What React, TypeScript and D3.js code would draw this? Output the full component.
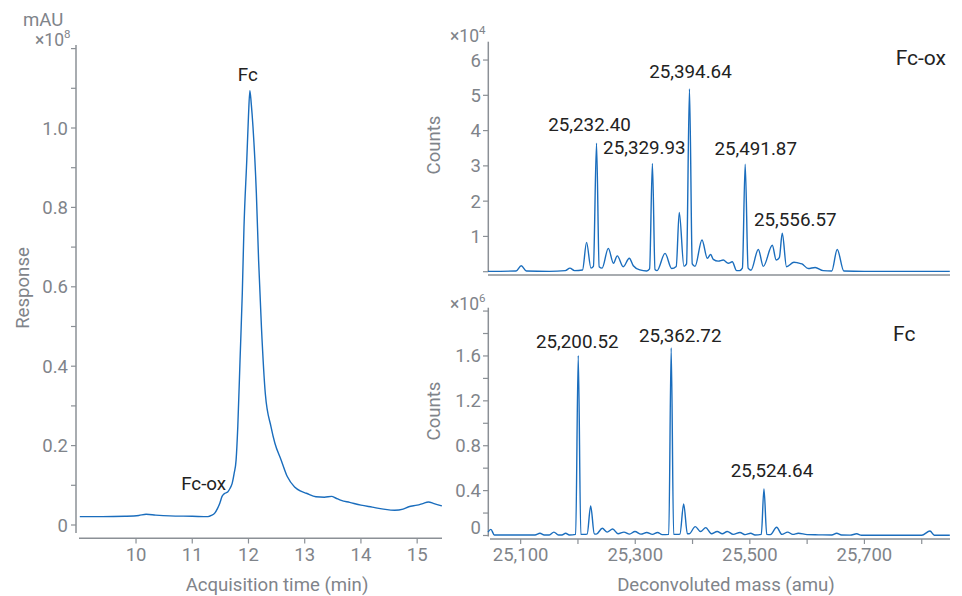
import React from "react";
import * as d3 from "d3";

// ---- Chromatogram (UV trace), response in units of 1e8 mAU ----
const chromTime = [
  9.0, 9.4, 9.8, 10.05, 10.18, 10.35, 10.6, 11.0, 11.28, 11.34, 11.4, 11.45, 11.49, 11.53,
  11.57, 11.63, 11.67, 11.71, 11.745, 11.78, 11.81, 11.85, 11.89, 11.92, 11.97, 12.0, 12.025,
  12.05, 12.08, 12.14, 12.18, 12.23, 12.3, 12.4, 12.47, 12.58, 12.69, 12.82, 12.92, 13.03,
  13.2, 13.35, 13.48, 13.55, 13.65, 13.8, 14.0, 14.2, 14.4, 14.6, 14.75, 14.85, 15.0, 15.1,
  15.2, 15.3, 15.44,
];
const chromResponse = [
  0.021, 0.021, 0.022, 0.024, 0.027, 0.025, 0.023, 0.022, 0.021, 0.024, 0.03, 0.042, 0.055,
  0.072, 0.079, 0.083, 0.092, 0.105, 0.13, 0.164, 0.248, 0.416, 0.584, 0.75, 0.92, 1.03, 1.094,
  1.06, 1.003, 0.836, 0.667, 0.5, 0.33, 0.248, 0.206, 0.164, 0.122, 0.096, 0.086, 0.08,
  0.071, 0.07, 0.072, 0.068, 0.062, 0.057, 0.05, 0.045, 0.04, 0.037, 0.04, 0.046, 0.05, 0.054,
  0.058, 0.054, 0.048,
];
const chromPeaks = [
  { name: "Fc", time: 12.025, response: 1.094 },
  { name: "Fc-ox", time: 11.55, response: 0.076 },
];

// ---- Deconvoluted spectrum, Fc-ox fraction (counts x 1e4) ----
const oxMass = [
  25043, 25092, 25101, 25110, 25150, 25178, 25186, 25194, 25208, 25215, 25222.7, 25227,
  25232.4, 25237, 25242, 25253, 25262, 25268.6, 25279, 25289.6, 25296.6, 25308, 25320, 25325,
  25329.93, 25334.5, 25338, 25352, 25363.6, 25371.5, 25376.8, 25385, 25389.5, 25394.64,
  25399.5, 25404.3, 25416.5, 25425.8, 25431.6, 25436.2, 25444.9, 25453.6, 25462.4, 25469.3,
  25477, 25482, 25487, 25491.87, 25497, 25502, 25514.8, 25523.5, 25539.2, 25546, 25551.5,
  25556.57, 25564, 25577, 25584, 25591, 25602, 25614, 25628, 25643, 25652.5, 25664, 25700,
  25849,
];
const oxCounts = [
  0.01, 0.02, 0.17, 0.02, 0.01, 0.03, 0.1, 0.03, 0.05, 0.83, 0.1, 0.15,
  3.64, 0.14, 0.1, 0.66, 0.24, 0.45, 0.14, 0.38, 0.17, 0.05, 0.02, 0.08,
  3.07, 0.06, 0.03, 0.52, 0.09, 0.15, 1.68, 0.15, 0.22, 5.18,
  0.22, 0.15, 0.9, 0.38, 0.49, 0.35, 0.3, 0.33, 0.24, 0.28,
  0.03, 0.03, 0.1, 3.05, 0.1, 0.04, 0.63, 0.15, 0.75, 0.33, 0.4,
  1.09, 0.14, 0.27, 0.25, 0.22, 0.09, 0.12, 0.03, 0.02, 0.63, 0.02, 0.01,
  0.01,
];
const oxLabels = [
  { mass: 25232.4, counts: 3.64 },
  { mass: 25329.93, counts: 3.07 },
  { mass: 25394.64, counts: 5.18 },
  { mass: 25491.87, counts: 3.05 },
  { mass: 25556.57, counts: 1.09 },
];

// ---- Deconvoluted spectrum, Fc fraction (counts x 1e6) ----
const fcMass = [
  25043, 25048, 25054, 25125, 25133.7, 25141, 25150, 25158, 25166, 25172, 25178.5, 25185,
  25196, 25200.52, 25205, 25210, 25216, 25222.2, 25228.5, 25232, 25242.5, 25251, 25260.6,
  25270, 25280.3, 25290, 25299.5, 25310, 25320, 25330, 25339, 25347, 25358.5, 25362.72,
  25367, 25374, 25378, 25384.5, 25391, 25394, 25404.8, 25414, 25423, 25433, 25443, 25452,
  25460.6, 25471, 25482.8, 25492, 25501.5, 25509, 25520, 25524.64, 25529.5, 25536, 25546.8,
  25556, 25566, 25575, 25584.6, 25600, 25620, 25643, 25651.6, 25660, 25675, 25686.5, 25695,
  25800, 25814.4, 25822, 25849,
];
const fcCounts = [
  0.03, 0.055, 0.005, 0.005, 0.02, 0.005, 0.005, 0.03, 0.005, 0.005, 0.02, 0.004,
  0.01, 1.603, 0.01, 0.01, 0.012, 0.263, 0.015, 0.012, 0.064, 0.03, 0.058,
  0.015, 0.03, 0.012, 0.036, 0.012, 0.027, 0.01, 0.027, 0.008, 0.01, 1.671,
  0.01, 0.01, 0.012, 0.281, 0.015, 0.015, 0.079, 0.035, 0.07, 0.015, 0.036, 0.015,
  0.036, 0.01, 0.027, 0.008, 0.02, 0.005, 0.01, 0.415, 0.01, 0.008, 0.073,
  0.01, 0.03, 0.01, 0.02, 0.008, 0.006, 0.004, 0.02, 0.004, 0.003, 0.015, 0.002,
  0.002, 0.04, 0.002, 0.002,
];
const fcLabels = [
  { mass: 25200.52, counts: 1.603 },
  { mass: 25362.72, counts: 1.671 },
  { mass: 25524.64, counts: 0.415 },
];

// ---- Axis ticks ----
const timeTicks = [10, 11, 12, 13, 14, 15];
const responseTicks = [0, 0.1, 0.2, 0.3, 0.4, 0.5, 0.6, 0.7, 0.8, 0.9, 1.0, 1.1, 1.2];
const responseLabels = [0, 0.2, 0.4, 0.6, 0.8, 1.0];
const oxCountTicks = [0, 1, 2, 3, 4, 5, 6];
const oxCountLabels = [1, 2, 3, 4, 5, 6];
const fcCountTicks = [0, 0.2, 0.4, 0.6, 0.8, 1.0, 1.2, 1.4, 1.6, 1.8, 2.0];
const fcCountLabels = [0, 0.4, 0.8, 1.2, 1.6];
const massTicks = [25100, 25200, 25300, 25400, 25500, 25600, 25700, 25800];
const massLabels = [25100, 25300, 25500, 25700];

// label placement relative to the annotated apex
const oxLabelOffsets = [[-7, -19], [-8, -15.6], [1, -18], [10.5, -15.7], [13, -14]];
const fcLabelOffsets = [[-1, -14.5], [9, -12.6], [8, -19]];

const FONT = "Roboto, 'Noto Sans', sans-serif";
const AXIS = "#8b9096";
const TICK_TEXT = "#7f848a";
const INK = "#222222";
const TRACE = "#1a6dbd";

const fmtMass = d3.format(",.2f");
const fmtTick = d3.format(",");

export default function App() {
  const tx = d3.scaleLinear().domain([9, 15.44]).range([79.8, 441.9]);
  const ty = d3.scaleLinear().domain([0, 1.2]).range([525, 48.6]);
  const mx = d3.scaleLinear().domain([25043, 25849]).range([488, 949.8]);
  const oy = d3.scaleLinear().domain([0, 6.52]).range([271.7, 41.7]);
  const fy = d3.scaleLinear().domain([0, 2.03]).range([535.5, 307.7]);

  const chromPath = d3
    .line<number>()
    .x((d) => tx(d))
    .y((_, i) => ty(chromResponse[i]))
    .curve(d3.curveMonotoneX)(chromTime) as string;

  const oxPath = d3
    .line<number>()
    .x((d) => mx(d))
    .y((_, i) => oy(oxCounts[i]))
    .curve(d3.curveMonotoneX)(oxMass) as string;

  const fcPath = d3
    .line<number>()
    .x((d) => mx(d))
    .y((_, i) => fy(fcCounts[i]))
    .curve(d3.curveMonotoneX)(fcMass) as string;

  const tickText = { fill: TICK_TEXT, fontSize: 18.5, fontFamily: FONT } as const;
  const titleText = { fill: TICK_TEXT, fontSize: 18.6, fontFamily: FONT } as const;
  const annText = { fill: INK, fontSize: 18.8, fontFamily: FONT } as const;
  const expText = { fill: TICK_TEXT, fontSize: 17.5, fontFamily: FONT } as const;

  const fcPeak = chromPeaks[0];
  const oxPeak = chromPeaks[1];

  return (
    <svg
      width={962}
      height={596}
      viewBox="0 0 962 596"
      style={{ position: "absolute", left: 0, top: 0, background: "#fff" }}
    >
      <rect x={0} y={0} width={962} height={596} fill="#ffffff" />

      {/* ===== Left: chromatogram ===== */}
      <text x={23} y={25.5} {...titleText}>mAU</text>
      <text x={35} y={45.5} {...expText}>
        ×10<tspan dy={-8} fontSize={11.5}>8</tspan>
      </text>
      <line x1={76} x2={76} y1={45} y2={533} stroke={AXIS} strokeWidth={1.5} />
      {responseTicks.map((t) => (
        <line key={"ry" + t} x1={71} x2={76} y1={ty(t)} y2={ty(t)} stroke={AXIS} strokeWidth={1.2} />
      ))}
      {responseLabels.map((t) => (
        <text key={"ryl" + t} x={68} y={ty(t) + 6.5} textAnchor="end" {...tickText}>
          {t === 0 ? "0" : t.toFixed(1)}
        </text>
      ))}
      <line x1={79} x2={442} y1={538.3} y2={538.3} stroke={AXIS} strokeWidth={1.5} />
      {timeTicks.map((t) => (
        <line key={"tx" + t} x1={tx(t)} x2={tx(t)} y1={538.3} y2={543.5} stroke={AXIS} strokeWidth={1.2} />
      ))}
      {timeTicks.map((t) => (
        <text key={"txl" + t} x={tx(t)} y={560.8} textAnchor="middle" {...tickText}>
          {t}
        </text>
      ))}
      <text x={277} y={590.8} textAnchor="middle" {...titleText}>Acquisition time (min)</text>
      <text
        transform="translate(28.5,288) rotate(-90)"
        textAnchor="middle"
        {...titleText}
      >
        Response
      </text>
      <path d={chromPath} fill="none" stroke={TRACE} strokeWidth={1.4} />
      <text x={tx(fcPeak.time) - 2} y={ty(fcPeak.response) - 16 + 6.5} textAnchor="middle" {...annText}>
        {fcPeak.name}
      </text>
      <text x={tx(oxPeak.time) - 19.5} y={ty(oxPeak.response) - 11.5 + 6.5} textAnchor="middle" {...annText}>
        {oxPeak.name}
      </text>

      {/* ===== Right top: Fc-ox deconvoluted spectrum ===== */}
      <text x={450} y={42} {...expText}>
        ×10<tspan dy={-8} fontSize={11.5}>4</tspan>
      </text>
      <line x1={488.3} x2={488.3} y1={41.7} y2={272} stroke={AXIS} strokeWidth={1.5} />
      {oxCountTicks.map((t) => (
        <line key={"oy" + t} x1={483} x2={488.3} y1={oy(t)} y2={oy(t)} stroke={AXIS} strokeWidth={1.2} />
      ))}
      {oxCountLabels.map((t) => (
        <text key={"oyl" + t} x={481} y={oy(t) + 6.5} textAnchor="end" {...tickText}>
          {t}
        </text>
      ))}
      <line x1={488} x2={950} y1={275} y2={275} stroke={AXIS} strokeWidth={1.5} />
      <text transform="translate(440,145) rotate(-90)" textAnchor="middle" {...titleText}>
        Counts
      </text>
      <path d={oxPath} fill="none" stroke={TRACE} strokeWidth={1.4} />
      {oxLabels.map((p, i) => (
        <text
          key={"oxl" + i}
          x={mx(p.mass) + oxLabelOffsets[i][0]}
          y={oy(p.counts) + oxLabelOffsets[i][1] + 6.6}
          textAnchor="middle"
          {...annText}
        >
          {fmtMass(p.mass)}
        </text>
      ))}
      <text x={946} y={64.5} textAnchor="end" fill={INK} fontSize={21} fontFamily={FONT}>
        Fc-ox
      </text>

      {/* ===== Right bottom: Fc deconvoluted spectrum ===== */}
      <text x={450} y={310} {...expText}>
        ×10<tspan dy={-8} fontSize={11.5}>6</tspan>
      </text>
      <line x1={488.3} x2={488.3} y1={307.7} y2={536.5} stroke={AXIS} strokeWidth={1.5} />
      {fcCountTicks.map((t) => (
        <line key={"fy" + t} x1={483} x2={488.3} y1={fy(t)} y2={fy(t)} stroke={AXIS} strokeWidth={1.2} />
      ))}
      {fcCountLabels.map((t) => (
        <text
          key={"fyl" + t}
          x={481}
          y={fy(t) + 6.5 - (t === 0 ? 8.5 : 0)}
          textAnchor="end"
          {...tickText}
        >
          {t === 0 ? "0" : t.toFixed(1)}
        </text>
      ))}
      <line x1={490} x2={950} y1={539} y2={539} stroke={AXIS} strokeWidth={1.5} />
      {massTicks.map((t) => (
        <line key={"mx" + t} x1={mx(t)} x2={mx(t)} y1={539} y2={544} stroke={AXIS} strokeWidth={1.2} />
      ))}
      {massLabels.map((t) => (
        <text key={"mxl" + t} x={mx(t)} y={560.8} textAnchor="middle" {...tickText}>
          {fmtTick(t)}
        </text>
      ))}
      <text x={726} y={590.8} textAnchor="middle" {...titleText}>Deconvoluted mass (amu)</text>
      <text transform="translate(440,411) rotate(-90)" textAnchor="middle" {...titleText}>
        Counts
      </text>
      <path d={fcPath} fill="none" stroke={TRACE} strokeWidth={1.4} />
      {fcLabels.map((p, i) => (
        <text
          key={"fcl" + i}
          x={mx(p.mass) + fcLabelOffsets[i][0]}
          y={fy(p.counts) + fcLabelOffsets[i][1] + 6.6}
          textAnchor="middle"
          {...annText}
        >
          {fmtMass(p.mass)}
        </text>
      ))}
      <text x={893} y={340.5} fill={INK} fontSize={21} fontFamily={FONT}>
        Fc
      </text>
    </svg>
  );
}
